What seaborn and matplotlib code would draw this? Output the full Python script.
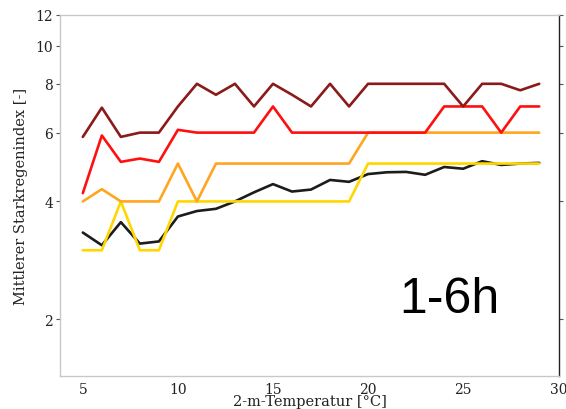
import matplotlib
matplotlib.use("Agg")
import matplotlib.pyplot as plt
import matplotlib.ticker as mticker
import seaborn as sns
import pandas as pd

# temperature bins (2 m temperature, degC)
temps = [5, 6, 7, 8, 9, 10, 11, 12, 13, 14, 15, 16, 17, 18, 19, 20,
         21, 22, 23, 24, 25, 26, 27, 28, 29]

# mean heavy-rain index per temperature bin, one list per curve
mean_idx = [3.33, 3.09, 3.54, 3.12, 3.16, 3.66, 3.78, 3.83, 4.0, 4.22, 4.43, 4.24, 4.29,
            4.54, 4.49, 4.70, 4.75, 4.76, 4.68, 4.90, 4.85, 5.07, 4.96, 5.0, 5.02]
gelb = [3, 3, 4, 3, 3, 4, 4, 4, 4, 4, 4, 4, 4, 4, 4, 5, 5, 5, 5, 5, 5, 5, 5, 5, 5]
orange = [4, 4.3, 4, 4, 4, 5, 4, 5, 5, 5, 5, 5, 5, 5, 5, 6, 6, 6, 6, 6, 6, 6, 6, 6, 6]
rot = [4.2, 5.9, 5.05, 5.15, 5.05, 6.1, 6, 6, 6, 6, 7, 6, 6, 6, 6, 6, 6, 6, 6, 7,
       7, 7, 6, 7, 7]
dunkelrot = [5.85, 6.95, 5.85, 6.0, 6.0, 7.0, 8, 7.5, 8, 7, 8, 7.5, 7, 8, 7, 8, 8, 8,
             8, 8, 7, 8, 8, 7.7, 8]

series = {"mittel": mean_idx, "gelb": gelb, "orange": orange, "rot": rot,
          "dunkelrot": dunkelrot}
farben = {"mittel": "#1c1c1c", "gelb": "#ffd700", "orange": "#ffa51f",
          "rot": "#ff1010", "dunkelrot": "#8b1a1a"}

# long format for seaborn
rows = []
for name, vals in series.items():
    for t, v in zip(temps, vals):
        rows.append({"T": t, "SRI": v, "kurve": name})
df = pd.DataFrame(rows)

sns.set_style("white")
plt.rcParams["font.family"] = ["DejaVu Serif"]

fig = plt.figure(figsize=(5.66, 4.10), dpi=100)
ax = fig.add_axes([0.106, 0.0805, 0.882, 0.8805])

sns.lineplot(data=df, x="T", y="SRI", hue="kurve", palette=farben,
             hue_order=list(series.keys()), linewidth=1.9, legend=False, ax=ax)

ax.set_yscale("log")
ax.set_ylim(1.43, 12)
ax.set_xlim(3.8, 30.05)
ax.yaxis.set_major_locator(mticker.FixedLocator([2, 4, 6, 8, 10, 12]))
ax.yaxis.set_major_formatter(mticker.FixedFormatter(["2", "4", "6", "8", "10", "12"]))
ax.yaxis.set_minor_locator(mticker.NullLocator())
ax.set_xticks([5, 10, 15, 20, 25, 30])

ax.tick_params(axis="both", direction="out", length=3, width=0.8, color="#555555",
               labelsize=10, labelcolor="#222222", pad=2)
ax.tick_params(axis="x", pad=1)
ax.tick_params(axis="y", right=True, left=True)

for s in ["left", "bottom", "top"]:
    ax.spines[s].set_color("#c8c8c8")
    ax.spines[s].set_linewidth(1.0)
ax.spines["right"].set_color("#222222")
ax.spines["right"].set_linewidth(1.0)

ax.set_xlabel("2-m-Temperatur [°C]", fontsize=10.5, color="#222222", labelpad=-1)
ax.set_ylabel("Mittlerer Starkregenindex [-]", fontsize=10.5, color="#222222", labelpad=5)

ax.text(0.679, 0.177, "1-6h", transform=ax.transAxes, ha="left", va="baseline",
        fontsize=36, family="Liberation Sans", color="black")

fig.savefig("out.png", dpi=100)
